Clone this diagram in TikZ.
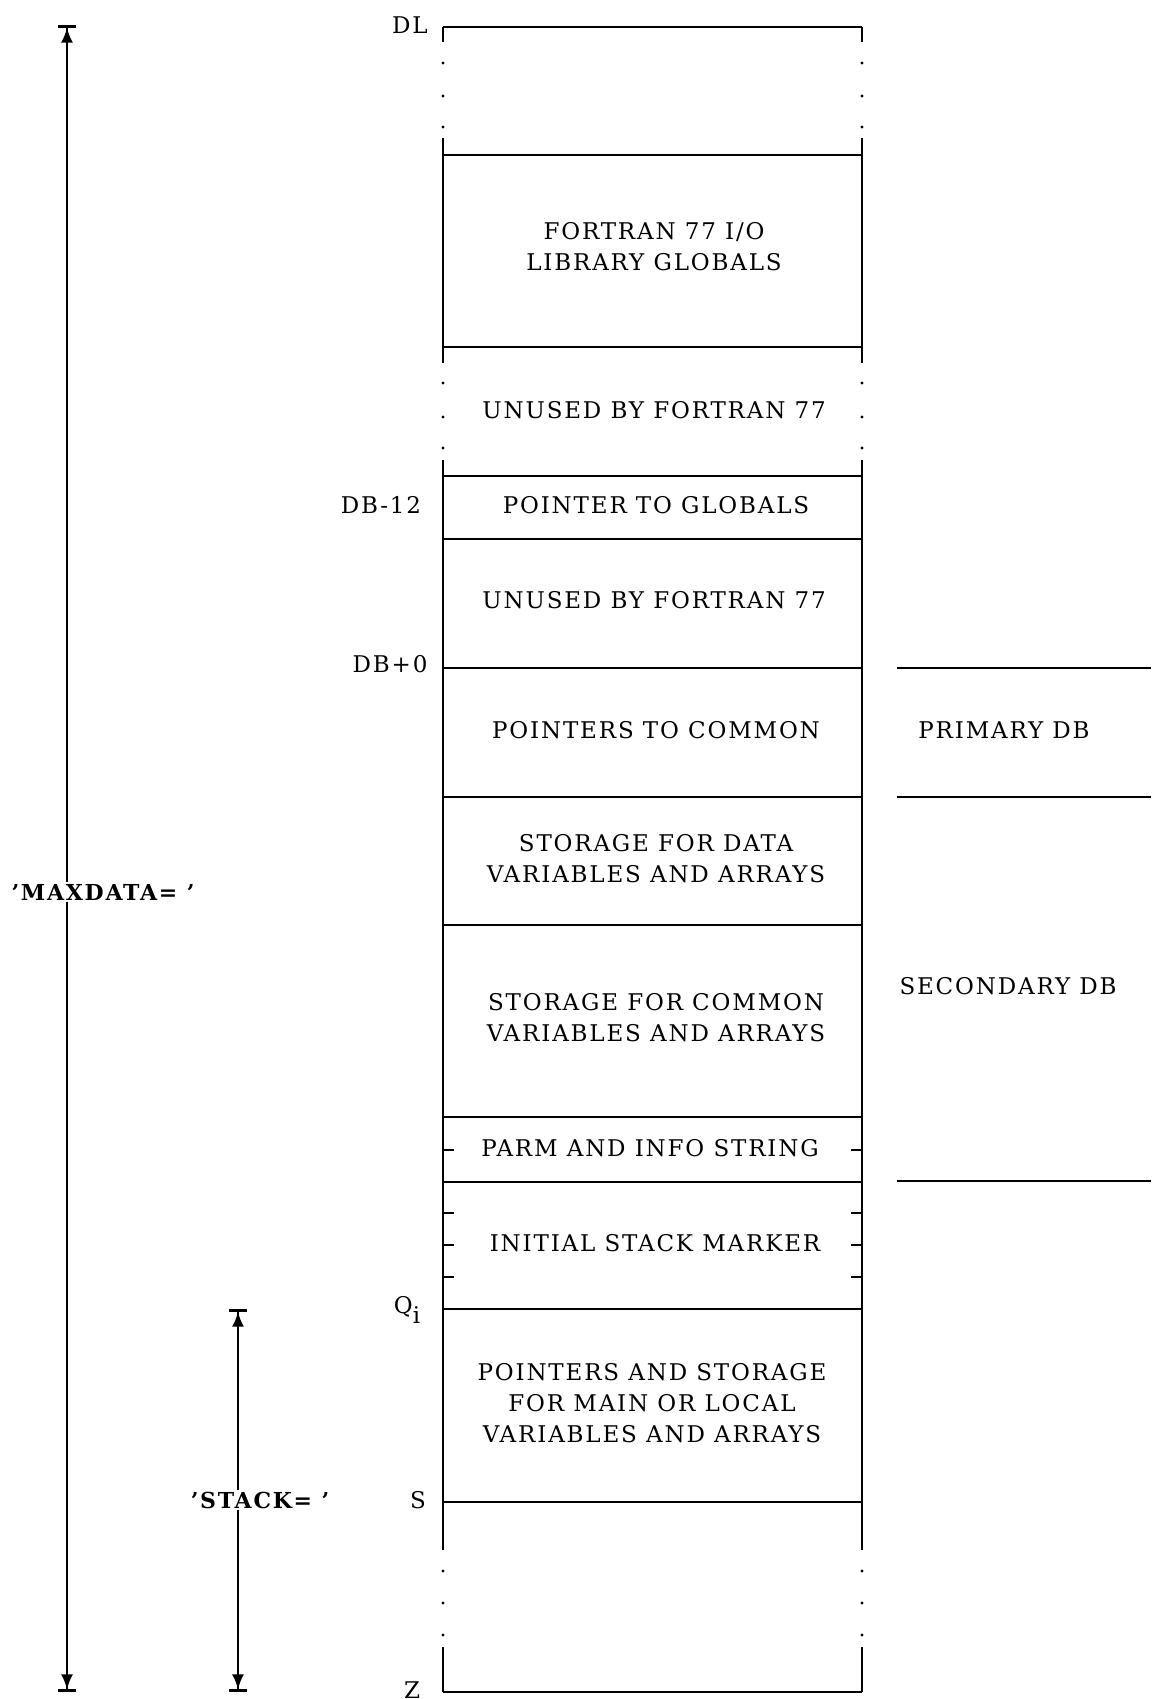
\documentclass[tikz,border=0pt]{standalone}
\usepackage{fontspec}
\setmainfont[LetterSpace=8]{DejaVu Serif}
\usetikzlibrary{arrows.meta}
\begin{document}
\begin{tikzpicture}[x=1pt,y=-1pt,
  wall/.style={line width=2.6pt, line cap=butt},
  thin/.style={line width=2.2pt},
  txt/.style={font=\fontsize{23}{31}\selectfont, align=center, inner sep=0pt},
  side/.style={font=\fontsize{23}{31}\selectfont, inner sep=0pt},
  bold/.style={font=\fontsize{22}{28}\selectfont\bfseries, inner sep=2pt, fill=white},
  dot/.style={fill=black, draw=none},
  dimarrow/.style={line width=2.4pt,
    {Bar[width=18pt,line width=2.6pt,sep=0pt]Latex[length=15pt,width=12pt]}-{Latex[length=15pt,width=12pt]Bar[width=18pt,line width=2.6pt,sep=0pt]}}
]
\useasboundingbox (0,0) rectangle (1151,1699);

% ---------- main column ----------
\def\L{443}
\def\R{862}

% horizontal boundaries
\foreach \y in {27,155,347,476,539,668,797,925,1117,1182,1309,1502,1692}
  \draw[wall] (\L,\y) -- (\R,\y);

% vertical solid walls
\draw[wall] (\L,27) -- (\L,42);  \draw[wall] (\R,27) -- (\R,42);
\draw[wall] (\L,138) -- (\L,363); \draw[wall] (\R,138) -- (\R,363);
\draw[wall] (\L,460) -- (\L,1550); \draw[wall] (\R,460) -- (\R,1550);
\draw[wall] (\L,1647) -- (\L,1692); \draw[wall] (\R,1647) -- (\R,1692);

% dotted gaps
\foreach \y in {63,96,127,383,417,448,1571,1603,1635}{
  \fill[dot] (\L,\y) circle (1.7);
  \fill[dot] (\R,\y) circle (1.7);
}

% ticks
\foreach \y in {1150,1213,1245,1277}{
  \draw[thin] (\L,\y) -- (\L+11,\y);
  \draw[thin] (\R-11,\y) -- (\R,\y);
}

% ---------- block texts ----------
\node[txt] (fortran) at (654,247) {FORTRAN 77 I/O\\LIBRARY GLOBALS};
\node[txt] (unused1) at (654,410) {UNUSED BY FORTRAN 77};
\node[txt] (ptrglob) at (656,505) {POINTER TO GLOBALS};
\node[txt] (unused2) at (654,600) {UNUSED BY FORTRAN 77};
\node[txt] (ptrcom) at (656,730) {POINTERS TO COMMON};
\node[txt] (sdata) at (656,859) {STORAGE FOR DATA\\VARIABLES AND ARRAYS};
\node[txt] (scom) at (656,1018) {STORAGE FOR COMMON\\VARIABLES AND ARRAYS};
\node[txt] (parm) at (650,1148) {PARM AND INFO STRING};
\node[txt] (ism) at (655,1243) {INITIAL STACK MARKER};
\node[txt] (pstor) at (652,1403) {POINTERS AND STORAGE\\FOR MAIN OR LOCAL\\VARIABLES AND ARRAYS};

% ---------- left address labels ----------
\node[side] (dl) at (410,25) {DL};
\node[side] (db12) at (381,505) {DB-12};
\node[side] (db0) at (390,664) {DB+0};
\node[side] (qi) at (407,1310) {Q\raisebox{-0.45em}{i}};
\node[side] (s) at (418,1500) {S};
\node[side] (z) at (412,1690) {Z};

% ---------- right DB regions ----------
\draw[wall] (897,668) -- (1151,668);
\draw[wall] (897,797) -- (1151,797);
\draw[wall] (897,1181) -- (1151,1181);
\node[side] (pdb) at (1004,730) {PRIMARY DB};
\node[side] (sdb) at (1008,986) {SECONDARY DB};

% ---------- dimension arrows ----------
\coordinate (maxtop) at (67,25);
\coordinate (maxbot) at (67,1692);
\draw[dimarrow] (maxtop) -- (maxbot);
\node[bold] (maxdata) at (103,892) {'MAXDATA= '};

\coordinate (stktop) at (238,1309);
\coordinate (stkbot) at (238,1692);
\draw[dimarrow] (stktop) -- (stkbot);
\node[bold] (stack) at (260,1500) {'STACK= '};
\end{tikzpicture}
\end{document}
